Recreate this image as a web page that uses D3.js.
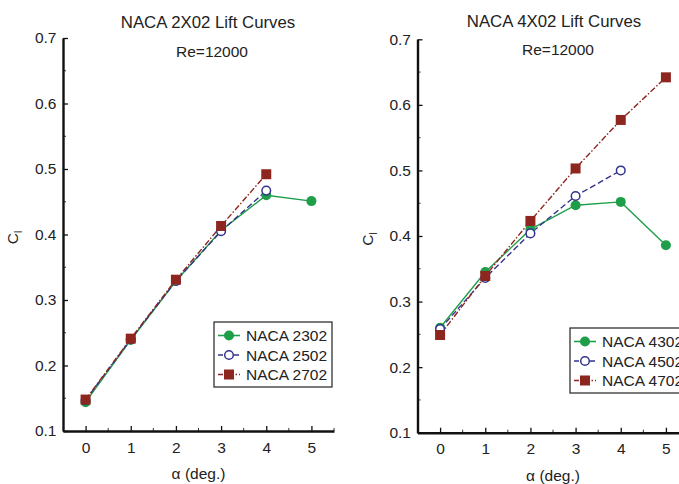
<!DOCTYPE html>
<html>
<head>
<meta charset="utf-8">
<script src="https://cdn.jsdelivr.net/npm/d3@7"></script>
<style>
  html, body { margin: 0; padding: 0; background: #fff; }
  svg { display: block; font-family: "Liberation Sans", Arial, sans-serif; }
</style>
</head>
<body>
<svg id="chart" width="679" height="484"></svg>
<script>
// Angle of attack (deg.)
const alpha = [0, 1, 2, 3, 4, 5];
const xTicks = [0, 1, 2, 3, 4, 5];
const yTicks = [0.1, 0.2, 0.3, 0.4, 0.5, 0.6, 0.7];

// NACA 2X02 family, Re = 12000
const naca2302 = [0.144, 0.239, 0.329, 0.406, 0.460, 0.451];
const naca2502 = [0.147, 0.240, 0.329, 0.405, 0.467];
const naca2702 = [0.148, 0.241, 0.331, 0.413, 0.492];

// NACA 4X02 family, Re = 12000
const naca4302 = [0.260, 0.345, 0.410, 0.447, 0.452, 0.386];
const naca4502 = [0.258, 0.336, 0.404, 0.461, 0.500];
const naca4702 = [0.249, 0.339, 0.423, 0.503, 0.577, 0.642];

const COLORS = { green: "#1f9e4a", blue: "#33338f", red: "#8e2620" };
const TEXT = "#222";

const svg = d3.select("#chart");

function drawPanel(p) {
  const g = svg.append("g");
  const x = d3.scaleLinear().domain([-0.5, 5.5]).range([p.x0, p.x1]);
  const y = d3.scaleLinear().domain([0.1, 0.7]).range([p.y0, p.y1]);

  // titles
  g.append("text").attr("x", p.titleX).attr("y", p.titleY)
    .attr("text-anchor", "middle").attr("font-size", 16.8).attr("fill", TEXT)
    .text(p.title);
  g.append("text").attr("x", p.subX).attr("y", p.subY)
    .attr("text-anchor", "middle").attr("font-size", 15.5).attr("fill", TEXT)
    .text("Re=12000");

  // minor ticks (inward)
  const xMinor = d3.range(-0.5, 5.6, 0.5).filter(v => Math.abs(v - Math.round(v)) > 0.1 && v > -0.4);
  g.selectAll(".xminor").data(xMinor).join("line")
    .attr("x1", d => x(d)).attr("x2", d => x(d))
    .attr("y1", p.y0).attr("y2", p.y0 - 3)
    .attr("stroke", "#333").attr("stroke-width", 1);
  const yMinor = d3.range(0.15, 0.7, 0.1);
  g.selectAll(".yminor").data(yMinor).join("line")
    .attr("x1", p.x0).attr("x2", p.x0 + 3)
    .attr("y1", d => y(d)).attr("y2", d => y(d))
    .attr("stroke", "#333").attr("stroke-width", 1);

  // x axis
  const xAxis = d3.axisBottom(x).tickValues(xTicks).tickFormat(d3.format("d"))
    .tickSizeInner(-5).tickSizeOuter(0).tickPadding(10.5);
  const gx = g.append("g").attr("transform", `translate(0,${p.y0})`).call(xAxis);
  gx.select(".domain").attr("stroke", "#111").attr("stroke-width", 2.4);
  gx.selectAll(".tick line").attr("stroke", "#111").attr("stroke-width", 1.3);
  gx.selectAll(".tick text").attr("font-size", 15.5).attr("fill", TEXT)
    .attr("font-family", "Liberation Sans, Arial, sans-serif");

  // y axis
  const yAxis = d3.axisLeft(y).tickValues(yTicks).tickFormat(d3.format(".1f"))
    .tickSizeInner(-5).tickSizeOuter(0).tickPadding(6.5);
  const gy = g.append("g").attr("transform", `translate(${p.x0},0)`).call(yAxis);
  gy.select(".domain").attr("stroke", "#111").attr("stroke-width", 2.4);
  gy.selectAll(".tick line").attr("stroke", "#111").attr("stroke-width", 1.3);
  gy.selectAll(".tick text").attr("font-size", 15.5).attr("fill", TEXT)
    .attr("font-family", "Liberation Sans, Arial, sans-serif");

  // axis titles
  g.append("text").attr("x", (p.x0 + p.x1) / 2).attr("y", p.y0 + 48)
    .attr("text-anchor", "middle").attr("font-size", 15.5).attr("fill", TEXT)
    .text("α (deg.)");
  const yl = g.append("text")
    .attr("transform", `translate(${p.x0 - 45},${(p.y0 + p.y1) / 2 + 3}) rotate(-90)`)
    .attr("text-anchor", "middle").attr("font-size", 15.5).attr("fill", TEXT);
  yl.append("tspan").text("C");
  yl.append("tspan").attr("font-size", 10).attr("dy", 4).text("l");

  // series
  const line = d3.line().x((d, i) => x(alpha[i])).y(d => y(d));
  p.series.forEach(s => {
    g.append("path").datum(s.values).attr("d", line)
      .attr("fill", "none").attr("stroke", s.color).attr("stroke-width", 1.4)
      .attr("stroke-dasharray", s.dash);
  });
  p.series.forEach(s => drawMarkers(g, s, x, y));

  // legend
  const lg = g.append("g").attr("transform", `translate(${p.legX},${p.legY})`);
  lg.append("rect").attr("x", 0).attr("y", 0).attr("width", 118).attr("height", 65)
    .attr("fill", "#fff").attr("stroke", "#222").attr("stroke-width", 1.2);
  p.series.forEach((s, i) => {
    const cy = 13.5 + i * 19.5;
    lg.append("line").attr("x1", 4).attr("x2", 26).attr("y1", cy).attr("y2", cy)
      .attr("stroke", s.color).attr("stroke-width", 1.6).attr("stroke-dasharray", s.legDash);
    drawMarker(lg, s, 15, cy);
    lg.append("text").attr("x", 32).attr("y", cy + 5.5)
      .attr("font-size", 15.5).attr("fill", TEXT).text(s.name);
  });
}

function drawMarker(g, s, cx, cy) {
  if (s.shape === "square") {
    g.append("rect").attr("x", cx - 5).attr("y", cy - 5).attr("width", 10).attr("height", 10)
      .attr("fill", s.color);
  } else if (s.shape === "open") {
    g.append("circle").attr("cx", cx).attr("cy", cy).attr("r", 4.3)
      .attr("fill", "#fff").attr("stroke", s.color).attr("stroke-width", 1.5);
  } else {
    g.append("circle").attr("cx", cx).attr("cy", cy).attr("r", 5)
      .attr("fill", s.color);
  }
}

function drawMarkers(g, s, x, y) {
  s.values.forEach((v, i) => drawMarker(g, s, x(alpha[i]), y(v)));
}

function makeSeries(names, vals) {
  return [
    { name: names[0], values: vals[0], color: COLORS.green, shape: "filled", dash: null, legDash: null },
    { name: names[1], values: vals[1], color: COLORS.blue, shape: "open", dash: "6,3", legDash: "5,3" },
    { name: names[2], values: vals[2], color: COLORS.red, shape: "square", dash: "6,2,1.5,2", legDash: "5,2,1.5,2" }
  ];
}

drawPanel({
  title: "NACA 2X02 Lift Curves",
  x0: 63, x1: 334, y0: 431, y1: 38,
  titleX: 208, titleY: 28, subX: 212, subY: 57,
  legX: 214, legY: 322,
  series: makeSeries(["NACA 2302", "NACA 2502", "NACA 2702"], [naca2302, naca2502, naca2702])
});

drawPanel({
  title: "NACA 4X02 Lift Curves",
  x0: 417.5, x1: 688.5, y0: 432.7, y1: 39.3,
  titleX: 554, titleY: 27, subX: 558, subY: 55,
  legX: 570, legY: 328,
  series: makeSeries(["NACA 4302", "NACA 4502", "NACA 4702"], [naca4302, naca4502, naca4702])
});
</script>
</body>
</html>
